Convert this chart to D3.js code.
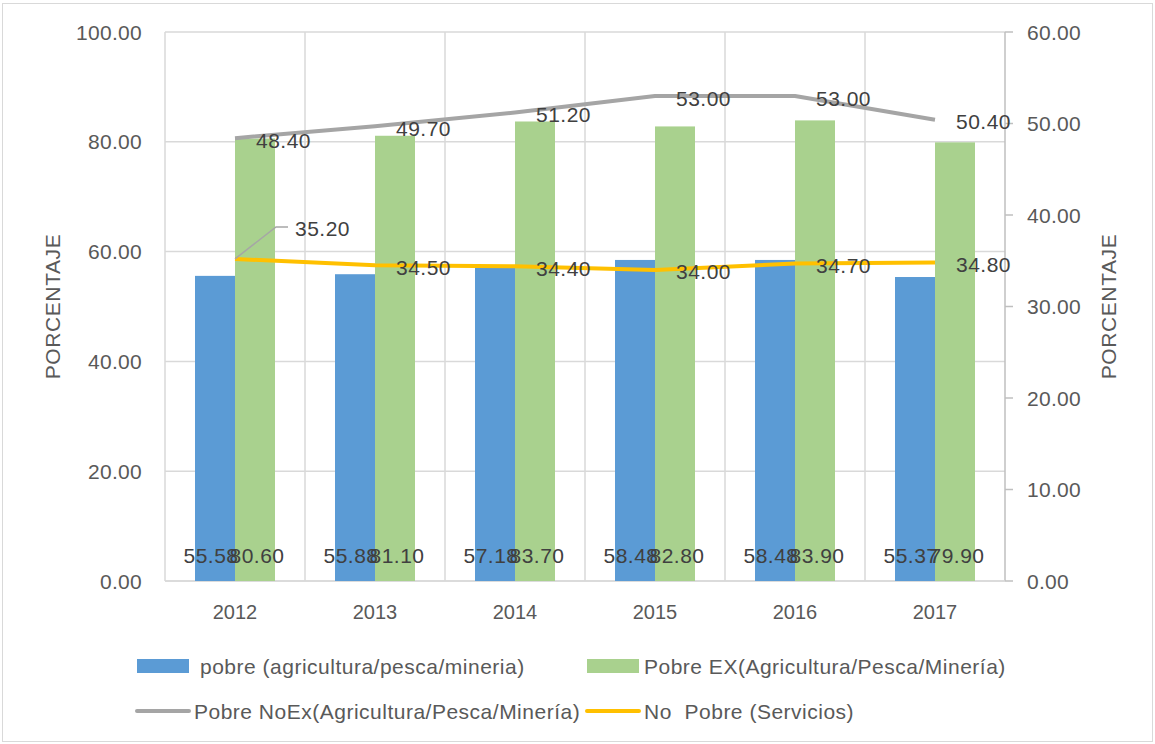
<!DOCTYPE html>
<html>
<head>
<meta charset="utf-8">
<script src="https://cdn.jsdelivr.net/npm/d3@7"></script>
<style>
  body { margin: 0; background: #fff; }
  svg { font-family: "Liberation Sans", Arial, sans-serif; }
</style>
</head>
<body>
<div id="chart"></div>
<script>
// datos
const years = ['2012', '2013', '2014', '2015', '2016', '2017'];
const pobre = [55.58, 55.88, 57.18, 58.48, 58.48, 55.37];
const pobreEx = [80.60, 81.10, 83.70, 82.80, 83.90, 79.90];
const pobreNoEx = [48.40, 49.70, 51.20, 53.00, 53.00, 50.40];
const noPobre = [35.20, 34.50, 34.40, 34.00, 34.70, 34.80];
const leftTicks = [0, 20, 40, 60, 80, 100];
const rightTicks = [0, 10, 20, 30, 40, 50, 60];

const W = 1155, H = 744;
const margin = { top: 32, right: 150, bottom: 163, left: 165 };

const svg = d3.select('#chart').append('svg')
  .attr('width', W).attr('height', H);

// borde del gráfico
svg.append('rect')
  .attr('x', 2.5).attr('y', 3.5)
  .attr('width', W - 5).attr('height', H - 6)
  .attr('fill', 'none').attr('stroke', '#d9d9d9').attr('stroke-width', 1);

// escalas
const x = d3.scaleBand().domain(years)
  .range([margin.left, W - margin.right]).paddingInner(0).paddingOuter(0);
const xs = d3.scaleBand().domain(['p', 'ex'])
  .range([0, x.bandwidth()]).paddingInner(0).paddingOuter(0.75);
const yL = d3.scaleLinear().domain([0, 100]).range([H - margin.bottom, margin.top]);
const yR = d3.scaleLinear().domain([0, 60]).range([H - margin.bottom, margin.top]);

const x0 = margin.left, x1 = W - margin.right;

// texto de ejes
const axText = sel => sel.attr('fill', '#595959')
  .style('font-size', '21px').style('letter-spacing', '0.3px');

// rejilla horizontal
svg.append('g').selectAll('line')
  .data(leftTicks)
  .join('line')
  .attr('x1', x0).attr('x2', x1)
  .attr('y1', d => yL(d)).attr('y2', d => yL(d))
  .attr('stroke', '#d9d9d9').attr('stroke-width', 1.5);

// rejilla vertical (límites de categorías)
svg.append('g').selectAll('line')
  .data(years.slice(1))
  .join('line')
  .attr('x1', d => x(d)).attr('x2', d => x(d))
  .attr('y1', yL(100)).attr('y2', yL(0))
  .attr('stroke', '#d9d9d9').attr('stroke-width', 1.5);

// eje izquierdo
svg.append('line')
  .attr('x1', x0).attr('x2', x0).attr('y1', yL(100)).attr('y2', yL(0))
  .attr('stroke', '#d9d9d9').attr('stroke-width', 1.5);

svg.append('g').selectAll('text')
  .data(leftTicks)
  .join('text')
  .attr('x', x0 - 23).attr('y', d => yL(d))
  .attr('dy', '0.36em')
  .attr('text-anchor', 'end')
  .call(axText)
  .text(d => d.toFixed(2));

// eje derecho
const gR = svg.append('g');
gR.append('line')
  .attr('x1', x1).attr('x2', x1).attr('y1', yR(60)).attr('y2', yR(0))
  .attr('stroke', '#bfbfbf').attr('stroke-width', 1.5);
gR.selectAll('.tk')
  .data(rightTicks)
  .join('line').attr('class', 'tk')
  .attr('x1', x1).attr('x2', x1 + 8)
  .attr('y1', d => yR(d)).attr('y2', d => yR(d))
  .attr('stroke', '#bfbfbf').attr('stroke-width', 1.5);
gR.selectAll('text')
  .data(rightTicks)
  .join('text')
  .attr('x', x1 + 22).attr('y', d => yR(d))
  .attr('dy', '0.36em')
  .call(axText)
  .text(d => d.toFixed(2));

// eje x
svg.append('line')
  .attr('x1', x0).attr('x2', x1).attr('y1', yL(0)).attr('y2', yL(0))
  .attr('stroke', '#d9d9d9').attr('stroke-width', 1.5);
svg.append('g').selectAll('text')
  .data(years)
  .join('text')
  .attr('x', d => x(d) + x.bandwidth() / 2)
  .attr('y', yL(0) + 31)
  .attr('dy', '0.36em')
  .attr('text-anchor', 'middle')
  .attr('fill', '#595959').style('font-size', '20px')
  .text(d => d);

// títulos de ejes
const yMid = (yL(0) + yL(100)) / 2;
[52, 1108].forEach(tx => {
  svg.append('text')
    .attr('transform', `translate(${tx},${yMid}) rotate(-90)`)
    .attr('text-anchor', 'middle').attr('dy', '0.36em')
    .call(axText).style('letter-spacing', '0.6px')
    .text('PORCENTAJE');
});

// barras
const blue = '#5b9bd5', green = '#a9d18e', gray = '#a5a5a5', gold = '#ffc000';

svg.append('g').selectAll('rect')
  .data(years)
  .join('rect')
  .attr('x', d => x(d) + xs('p'))
  .attr('width', xs.bandwidth())
  .attr('y', (d, i) => yL(pobre[i]))
  .attr('height', (d, i) => yL(0) - yL(pobre[i]))
  .attr('fill', blue);

svg.append('g').selectAll('rect')
  .data(years)
  .join('rect')
  .attr('x', d => x(d) + xs('ex'))
  .attr('width', xs.bandwidth())
  .attr('y', (d, i) => yL(pobreEx[i]))
  .attr('height', (d, i) => yL(0) - yL(pobreEx[i]))
  .attr('fill', green);

// líneas (eje secundario)
const cx = d => x(d) + x.bandwidth() / 2;
const line = vals => d3.line()
  .x(d => cx(d))
  .y((d, i) => yR(vals[i]))(years);

svg.append('path').attr('d', line(pobreNoEx))
  .attr('fill', 'none').attr('stroke', gray).attr('stroke-width', 4)
  .attr('stroke-linejoin', 'round');
svg.append('path').attr('d', line(noPobre))
  .attr('fill', 'none').attr('stroke', gold).attr('stroke-width', 4)
  .attr('stroke-linejoin', 'round');

// etiquetas de barras (base interior)
const lblStyle = sel => sel.attr('fill', '#404040')
  .style('font-size', '21px').style('letter-spacing', '0.5px');

svg.append('g').selectAll('text')
  .data(years)
  .join('text')
  .attr('x', d => x(d) + xs('p') + xs.bandwidth() / 2 - 4)
  .attr('y', yL(0) - 26).attr('dy', '0.36em')
  .attr('text-anchor', 'middle')
  .call(lblStyle)
  .text((d, i) => pobre[i].toFixed(2));

svg.append('g').selectAll('text')
  .data(years)
  .join('text')
  .attr('x', d => x(d) + xs('ex') + xs.bandwidth() / 2 + 2)
  .attr('y', yL(0) - 26).attr('dy', '0.36em')
  .attr('text-anchor', 'middle')
  .call(lblStyle)
  .text((d, i) => pobreEx[i].toFixed(2));

// etiquetas de líneas (a la derecha)
svg.append('g').selectAll('text')
  .data(years)
  .join('text')
  .attr('x', d => cx(d) + 21)
  .attr('y', (d, i) => yR(pobreNoEx[i]) + 2).attr('dy', '0.36em')
  .call(lblStyle)
  .text((d, i) => pobreNoEx[i].toFixed(2));

svg.append('g').selectAll('text')
  .data(years)
  .join('text')
  .attr('x', (d, i) => i === 0 ? cx(d) + 60 : cx(d) + 21)
  .attr('y', (d, i) => i === 0 ? yR(noPobre[i]) - 30 : yR(noPobre[i]) + 2)
  .attr('dy', '0.36em')
  .call(lblStyle)
  .text((d, i) => noPobre[i].toFixed(2));

// línea guía de la etiqueta 35.20
{
  const px = cx(years[0]), py = yR(noPobre[0]);
  svg.append('path')
    .attr('d', `M${px},${py} L${px + 41},${py - 32} L${px + 53},${py - 32}`)
    .attr('fill', 'none').attr('stroke', '#a6a6a6').attr('stroke-width', 1.5);
}

// leyenda
const legend = [
  { name: 'pobre (agricultura/pesca/mineria)', color: blue, type: 'rect', x: 137, y: 666, tx: 200 },
  { name: 'Pobre EX(Agricultura/Pesca/Minería)', color: green, type: 'rect', x: 587, y: 666, tx: 644 },
  { name: 'Pobre NoEx(Agricultura/Pesca/Minería)', color: gray, type: 'line', x: 137, y: 711, tx: 194 },
  { name: 'No  Pobre (Servicios)', color: gold, type: 'line', x: 587, y: 711, tx: 644 }
];
const lg = svg.append('g').selectAll('g').data(legend).join('g');
lg.filter(d => d.type === 'rect').append('rect')
  .attr('x', d => d.x).attr('y', d => d.y - 7)
  .attr('width', 52).attr('height', 14)
  .attr('fill', d => d.color);
lg.filter(d => d.type === 'line').append('line')
  .attr('x1', d => d.x).attr('x2', d => d.x + 52)
  .attr('y1', d => d.y).attr('y2', d => d.y)
  .attr('stroke', d => d.color).attr('stroke-width', 4)
  .attr('stroke-linecap', 'round');
lg.append('text')
  .attr('x', d => d.tx).attr('y', d => d.y).attr('dy', '0.36em')
  .attr('fill', '#595959')
  .style('font-size', '21px').style('letter-spacing', '0.5px')
  .style('white-space', 'pre')
  .text(d => d.name);
</script>
</body>
</html>
